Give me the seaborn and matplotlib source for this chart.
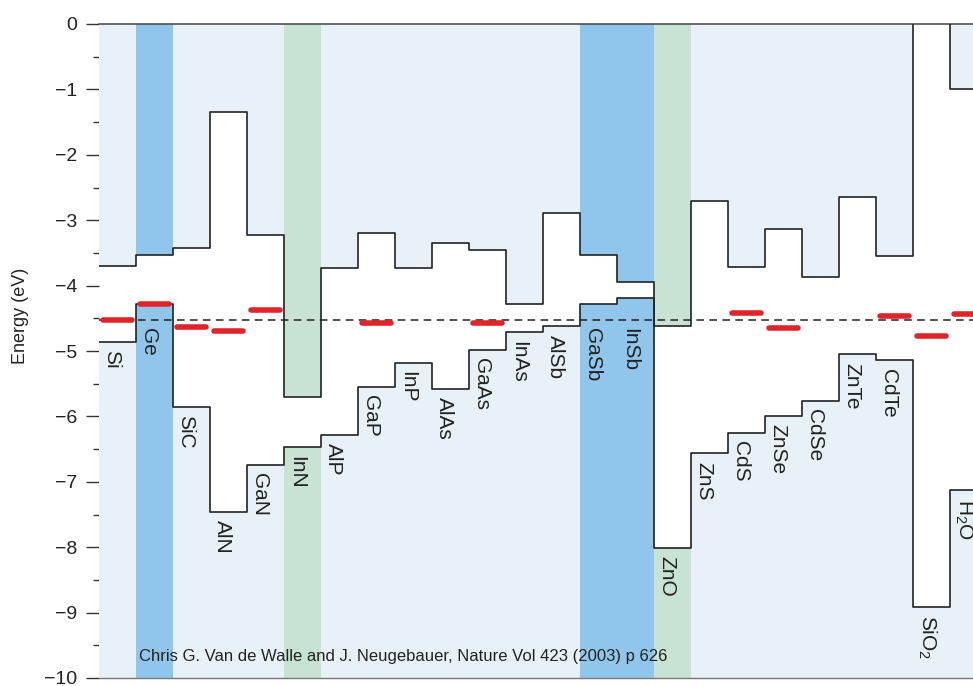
import matplotlib
matplotlib.use("Agg")
import matplotlib.pyplot as plt
import numpy as np
import seaborn as sns


sns.set_theme(style="white")
plt.rcParams["font.family"] = ["Liberation Sans", "DejaVu Sans"]
plt.rcParams["mathtext.fontset"] = "custom"
plt.rcParams["mathtext.rm"] = "Liberation Sans"
plt.rcParams["mathtext.it"] = "Liberation Sans:italic"

# band edges (eV), one entry per material column
materials = ["Si", "Ge", "SiC", "AlN", "GaN", "InN", "AlP", "GaP", "InP", "AlAs", "GaAs", "InAs",
             "AlSb", "GaSb", "InSb", "ZnO", "ZnS", "CdS", "ZnSe", "CdSe", "ZnTe", "CdTe",
             "SiO$_2$", "H$_2$O"]
conduction = [-3.70, -3.53, -3.43, -1.34, -3.23, -5.70, -3.73, -3.20, -3.73, -3.35, -3.46, -4.28,
              -2.89, -3.53, -3.94, -4.62, -2.71, -3.72, -3.13, -3.87, -2.64, -3.54,
              0.5, -0.99]  # SiO2 conduction band is off the top of the scale
valence = [-4.86, -4.28, -5.85, -7.46, -6.74, -6.47, -6.28, -5.55, -5.18, -5.58, -4.98, -4.71,
           -4.62, -4.28, -4.19, -8.01, -6.56, -6.25, -5.99, -5.76, -5.05, -5.14,
           -8.91, -7.13]
# hydrogen transition level (red bars), nan where none is drawn
h_level = [-4.53, -4.28, -4.63, -4.70, -4.37, np.nan, np.nan, -4.57, np.nan, np.nan, -4.57, np.nan,
           np.nan, np.nan, np.nan, np.nan, np.nan, -4.42, -4.65, np.nan, np.nan, -4.46,
           -4.77, -4.44]
shading = ["", "blue", "", "", "", "green", "", "", "", "", "", "",
           "", "blue", "blue", "green", "", "", "", "", "", "",
           "", ""]
water_level = -4.52
citation = "Chris G. Van de Walle and J. Neugebauer, Nature Vol 423 (2003) p 626"

palette = {"": "#e8f1f8", "blue": "#91c6ec", "green": "#c8e3d3"}
n = len(materials)
left = np.arange(n)
cb = np.array(conduction)
vb = np.array(valence)
col_colors = [palette[s] for s in shading]

fig = plt.figure(figsize=(9.73, 6.86), dpi=100)
ax = fig.add_axes([99 / 973, 8 / 686, 888 / 973, 654 / 686])

# shaded band regions above the conduction band and below the valence band
ax.bar(left, np.clip(-cb, 0, None), bottom=cb, width=1, align="edge", color=col_colors, linewidth=0, zorder=1)
ax.bar(left, vb + 10, bottom=-10, width=1, align="edge", color=col_colors, linewidth=0, zorder=1)

ax.axhline(water_level, color="#222222", lw=1.1, dashes=(5, 3.5), zorder=2)

edges = np.arange(n + 1)
for band in (cb, vb):
    sns.lineplot(x=edges, y=np.append(band, band[-1]), drawstyle="steps-post", color="#222222",
                 lw=1.2, sort=False, estimator=None, ax=ax, zorder=3)

for i, h in enumerate(h_level):
    if not np.isnan(h):
        ax.plot([i + 0.1, i + 0.9], [h, h], color="#e0242b", lw=4, solid_capstyle="round", zorder=4)

# names hang under the valence band, or under the dashed line when the band sits above it
for i, name in enumerate(materials):
    ax.text(i + 0.08, min(vb[i], water_level) - 0.13, name, rotation=270, ha="left", va="top",
            fontsize=15, color="#222222", zorder=5)

ax.text(1.08, -9.74, citation, fontsize=12, va="baseline", ha="left", color="#222222", zorder=5)

ax.set_xlim(0, 24)
ax.set_ylim(-10, 0)
ax.set_yticks(np.arange(-10, 1, 1))
ax.set_yticks(np.arange(-9.5, 0, 1), minor=True)
ax.set_xticks([])
ax.tick_params(axis="y", which="major", direction="out", length=9.4, width=1, color="#333333",
               pad=6, labelsize=14, labelcolor="#222222", left=True)
ax.tick_params(axis="y", which="minor", direction="out", length=4.3, width=1, color="#333333", left=True)
ax.set_ylabel("Energy (eV)", fontsize=13, color="#222222")
ax.yaxis.set_label_coords(-0.079, 0.553)

for side in ("left", "right"):
    ax.spines[side].set_visible(False)
ax.spines["top"].set_color("#444444")
ax.spines["top"].set_linewidth(1.1)
ax.spines["bottom"].set_color("#777777")
ax.spines["bottom"].set_linewidth(1.0)
ax.set_facecolor("white")

fig.savefig("out.png", dpi=100)
